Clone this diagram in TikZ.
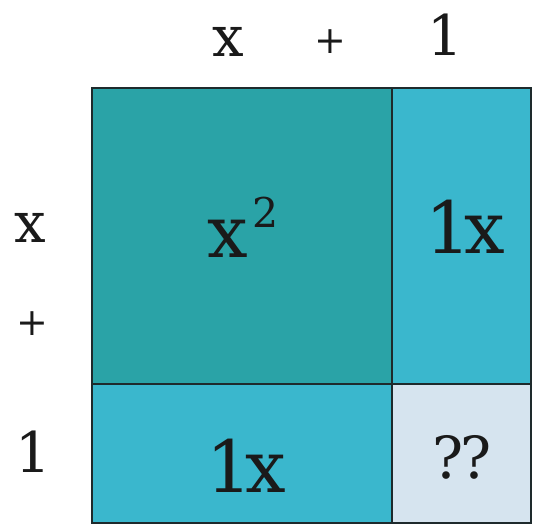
\documentclass[tikz,border=0pt]{standalone}
\usepackage{fontspec}
\setmainfont{DejaVu Serif}
\definecolor{teal1}{HTML}{2AA3A7}
\definecolor{cyan1}{HTML}{3AB7CD}
\definecolor{pale1}{HTML}{D6E4EF}
\definecolor{edge1}{HTML}{1E2A2C}
\definecolor{ink1}{HTML}{1A1A1A}
\tikzset{
  cell/.style={draw=edge1, line width=1.2pt},
  lab/.style={font=\fontsize{56}{56}\selectfont, text=ink1, inner sep=0pt, anchor=base},
  plus/.style={font=\fontsize{38}{38}\selectfont, text=ink1, inner sep=0pt},
  big/.style={font=\fontsize{72}{72}\selectfont, text=ink1, inner sep=0pt, anchor=base},
  small/.style={font=\fontsize{58}{58}\selectfont, text=ink1, inner sep=0pt, anchor=base}
}
\begin{document}
\begin{tikzpicture}[x=1pt,y=-1pt]
\useasboundingbox (0,0) rectangle (535,525);
\fill[white] (0,0) rectangle (535,525);
\filldraw[cell, fill=teal1] (92,88) rectangle (392,384);
\filldraw[cell, fill=cyan1] (392,88) rectangle (531,384);
\filldraw[cell, fill=cyan1] (92,384) rectangle (392,523);
\filldraw[cell, fill=pale1] (392,384) rectangle (531,523);
\node[lab] (tx) at (228,56) {x};
\node[plus] (tp) at (330,42) {+};
\node[lab] (t1) at (445,55) {1};
\node[lab] (lx) at (30,242) {x};
\node[plus] (lp) at (32,324) {+};
\node[lab] (l1) at (33,472) {1};
\node[big] (sq) at (243,257) {x\hspace{4pt}\raisebox{30pt}{\fontsize{41}{41}\selectfont 2}};
\node[big] (r1) at (465,253) {1\hspace{-7pt}x};
\node[big] (b1) at (246,492) {1\hspace{-7pt}x};
\node[small] (qq) at (462,478) {?\hspace{-4pt}?};
\end{tikzpicture}
\end{document}
